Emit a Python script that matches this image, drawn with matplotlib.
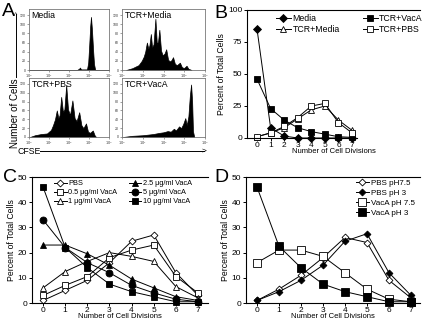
import numpy as np
import matplotlib.pyplot as plt

plt.rcParams['font.family'] = ['Liberation Sans', 'DejaVu Sans']

W, H = 424, 320

# ---- panel A: CFSE histograms (outline vertices, log10 CFSE vs % of max) ----
media_x = [0, 2.4, 2.5, 2.55, 2.6, 2.9, 2.96, 3.01, 3.06, 3.10, 3.15, 3.2, 3.25, 3.31, 4]
media_y = [0, 0, 2, 4, 1, 1, 12, 40, 72, 87, 65, 35, 10, 0, 0]

tcr_media_x = [0.2, 0.5, 0.8, 0.95, 1.05, 1.12, 1.2, 1.27, 1.32, 1.39, 1.45, 1.52, 1.61, 1.68,
               1.74, 1.80, 1.88, 1.96, 2.05, 2.13, 2.22, 2.3, 2.38, 2.46, 2.55, 2.65, 2.72,
               2.79, 2.88, 2.98, 3.05, 3.11, 3.2, 3.35]
tcr_media_y = [0, 3, 8, 15, 22, 30, 45, 35, 40, 59, 37, 42, 84, 42, 47, 66, 32, 24, 27, 34,
               17, 14, 16, 21, 10, 8, 10, 12, 5, 3, 5, 7, 2, 0]

tcr_pbs_x = [0.05, 0.3, 0.6, 0.9, 1.1, 1.2, 1.3, 1.39, 1.47, 1.53, 1.61, 1.7, 1.77, 1.86, 1.95,
             2.05, 2.17, 2.28, 2.38, 2.51, 2.62, 2.72, 2.85, 2.95, 3.05, 3.19, 3.28, 3.35]
tcr_pbs_y = [0, 3, 5, 6, 12, 20, 30, 45, 32, 37, 68, 42, 47, 88, 47, 37, 62, 32, 27, 42, 20,
             15, 23, 9, 7, 11, 3, 0]

tcr_vaca_x = [0.05, 0.5, 1.0, 1.5, 1.8, 2.0, 2.2, 2.35, 2.5, 2.6, 2.75, 2.85, 2.95, 3.05, 3.12,
              3.2, 3.27, 3.33, 3.38, 3.42, 3.48]
tcr_vaca_y = [0, 2, 3, 5, 7, 8, 10, 9, 14, 11, 18, 15, 22, 32, 20, 35, 70, 89, 60, 10, 0]

# ---- panel B ----
divisions = [0, 1, 2, 3, 4, 5, 6, 7]
b_media = [85, 8, 1.5, 0, 0, 0, 0, 0]
b_tcr_media = [1, 4, 8, 15, 22, 25, 14, 6]
b_tcr_vaca = [46, 23, 14, 8, 5, 3, 1, 0.5]
b_tcr_pbs = [1, 4, 9, 16, 25, 27, 12, 4]

# ---- panel C ----
c_pbs = [1, 5, 9, 16, 24.5, 27, 12, 3]
c_05 = [3, 7, 10.5, 18, 21, 23, 10.5, 4]
c_1 = [6, 12.5, 16.5, 20, 18.5, 16.5, 6.5, 2]
c_25 = [23, 23, 19.5, 15, 9.5, 6, 2.5, 1]
c_5 = [33, 22, 16, 12, 7, 4, 1.5, 0.5]
c_10 = [46, 22, 14, 7.5, 4.5, 2.5, 0.5, 0.5]

# ---- panel D ----
d_pbs75 = [1, 5.5, 11, 18, 26, 24, 9, 2]
d_pbs3 = [1, 4.5, 9, 15, 24.5, 27.5, 12, 3]
d_vaca75 = [16, 21, 21, 18.5, 12, 5.5, 1.5, 0.5]
d_vaca3 = [46, 22.5, 14, 7.5, 4.5, 2.5, 0.5, 0.5]

fig = plt.figure(figsize=(W / 100, H / 100), dpi=100)


def px_axes(left, top, right, bottom):
    return fig.add_axes([left / W, 1 - bottom / H, (right - left) / W, (bottom - top) / H])


def fx(x):
    return x / W


def fy(y):
    return 1 - y / H


# histograms
hists = [
    ((29, 9, 109, 70), media_x, media_y, 'Media'),
    ((122, 9, 205, 70), tcr_media_x, tcr_media_y, 'TCR+Media'),
    ((29, 78, 109, 137), tcr_pbs_x, tcr_pbs_y, 'TCR+PBS'),
    ((122, 78, 205, 137), tcr_vaca_x, tcr_vaca_y, 'TCR+VacA'),
]
for box, hx, hy, name in hists:
    ax = px_axes(*box)
    ax.fill_between(hx, hy, 0, color='black', lw=0.5)
    ax.set_xlim(0, 4)
    ax.set_ylim(0, 100)
    ax.set_xticks([0, 1, 2, 3, 4])
    ax.set_xticklabels([r'$10^{%d}$' % k for k in range(5)])
    ax.set_yticks([0, 15, 30, 45, 60, 75, 90])
    ax.set_yticklabels(['0', '20', '40', '60', '80', '100', '120'])
    ax.tick_params(labelsize=2.5, length=1.5, width=0.4, pad=0.5, colors='#555555',
                   labelcolor='#333333')
    for s in ax.spines.values():
        s.set_linewidth(0.6)
        s.set_color('#777777')
    ax.text(0.03, 0.97, name, transform=ax.transAxes, ha='left', va='top', fontsize=6.3)

# axis labels for A with arrows
fig.text(fx(15), fy(113), 'Number of Cells', rotation=90, ha='center', va='center', fontsize=7)
fig.add_artist(plt.Line2D([fx(16), fx(16)], [fy(77), fy(14)], color='black', lw=0.7))
fig.text(fx(16), fy(15.5), '^', ha='center', va='center', fontsize=5)
fig.text(fx(17), fy(151), 'CFSE', ha='left', va='center', fontsize=6.3)
fig.add_artist(plt.Line2D([fx(40), fx(204)], [fy(151), fy(151)], color='black', lw=0.7))
fig.text(fx(204), fy(151), '>', ha='center', va='center', fontsize=6)


def style_line_axes(ax, ymax, step, xright):
    ax.set_ylim(0, ymax)
    ax.set_yticks(np.arange(0, ymax + 1, step))
    ax.set_xticks(divisions)
    ax.spines['right'].set_visible(False)
    ax.spines['bottom'].set_bounds(ax.get_xlim()[0], xright)
    for s in ax.spines.values():
        s.set_linewidth(0.8)
    ax.tick_params(labelsize=6, length=2.5, width=0.7, pad=1)
    ax.tick_params(axis='x', pad=0.5)
    ax.set_xlabel('Number of Cell Divisions', fontsize=5.5, labelpad=-1)
    ax.set_ylabel('Percent of Total Cells', fontsize=6.2, labelpad=1)


def series(ax, y, marker, filled, ms, label):
    ax.plot(divisions, y, color='black', lw=0.7, marker=marker, ms=ms,
            mfc='black' if filled else 'white', mec='black', mew=0.6,
            clip_on=False, label=label)


# ---- B ----
axb = px_axes(247, 10, 420, 138)
axb.set_xlim(-0.74, (420 - 257) / 13.57)
series(axb, b_media, 'D', True, 4, 'Media')
series(axb, b_tcr_media, '^', False, 4.5, 'TCR+Media')
series(axb, b_tcr_vaca, 's', True, 5, 'TCR+VacA')
series(axb, b_tcr_pbs, 's', False, 5, 'TCR+PBS')
style_line_axes(axb, 100, 25, 7.35)
axb.legend(loc='upper left', bbox_to_anchor=(fx(276), fy(14)), bbox_transform=fig.transFigure,
           ncol=2, frameon=False, fontsize=6.3, handlelength=1.7, handletextpad=0.2,
           labelspacing=0.2, columnspacing=2.6, borderpad=0, borderaxespad=0)

# ---- C ----
axc = px_axes(32, 177, 208, 303)
axc.set_xlim(-0.5, 7.45)
series(axc, c_pbs, 'D', False, 3.5, 'PBS')
series(axc, c_05, 's', False, 5, '0.5 \u03bcg/ml VacA')
series(axc, c_1, '^', False, 5, '1 \u03bcg/ml VacA')
series(axc, c_25, '^', True, 5, '2.5 \u03bcg/ml VacA')
series(axc, c_5, 'o', True, 5, '5 \u03bcg/ml VacA')
series(axc, c_10, 's', True, 5, '10 \u03bcg/ml VacA')
style_line_axes(axc, 50, 10, 7.45)
axc.legend(loc='upper left', bbox_to_anchor=(fx(54), fy(180)), bbox_transform=fig.transFigure,
           ncol=2, frameon=False, fontsize=5.3, handlelength=1.7, handletextpad=0.2,
           labelspacing=0.25, columnspacing=1.6, borderpad=0, borderaxespad=0)

# ---- D ----
axd = px_axes(246, 177, 420, 303)
axd.set_xlim(-0.5, 7.41)
series(axd, d_pbs75, 'D', False, 3.5, 'PBS pH7.5')
series(axd, d_pbs3, 'D', True, 3.5, 'PBS pH 3')
series(axd, d_vaca75, 's', False, 5.5, 'VacA pH 7.5')
series(axd, d_vaca3, 's', True, 5.5, 'VacA pH 3')
style_line_axes(axd, 50, 10, 7.41)
axd.legend(loc='upper left', bbox_to_anchor=(fx(356), fy(179)), bbox_transform=fig.transFigure,
           ncol=1, frameon=False, fontsize=5.8, handlelength=1.6, handletextpad=0.3,
           labelspacing=0.3, borderpad=0, borderaxespad=0)

# panel letters
for letter, x, y in [('A', 2, 3), ('B', 214, 5), ('C', 3, 169), ('D', 214, 169)]:
    fig.text(fx(x), fy(y), letter, ha='left', va='top', fontsize=14)

fig.savefig('out.png', dpi=100)
